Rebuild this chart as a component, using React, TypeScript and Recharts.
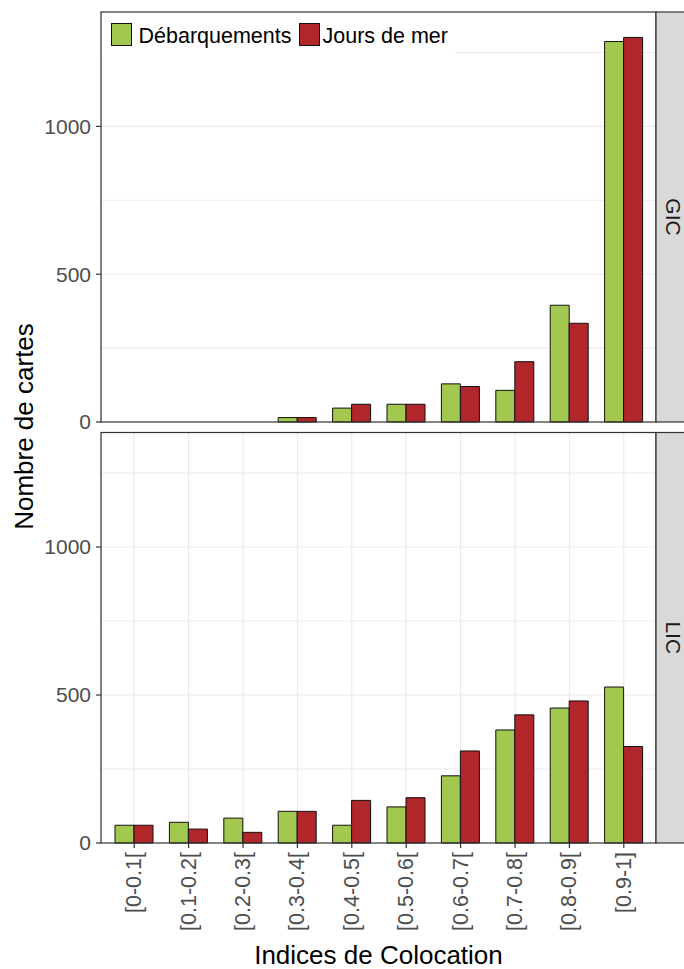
import { Bar, BarChart, CartesianGrid, XAxis, YAxis } from "recharts";

const categories = [
  "[0-0.1[",
  "[0.1-0.2[",
  "[0.2-0.3[",
  "[0.3-0.4[",
  "[0.4-0.5[",
  "[0.5-0.6[",
  "[0.6-0.7[",
  "[0.7-0.8[",
  "[0.8-0.9[",
  "[0.9-1]",
];

// facet GIC
const gicDebarquements = [0, 0, 0, 15, 47, 60, 129, 107, 395, 1287];
const gicJoursDeMer = [0, 0, 0, 15, 60, 60, 120, 204, 334, 1301];
// facet LIC
const licDebarquements = [60, 70, 84, 107, 60, 122, 227, 382, 456, 527];
const licJoursDeMer = [60, 47, 36, 107, 144, 153, 311, 433, 480, 326];

const yTicks = [0, 500, 1000];
const yGridValues = [250, 500, 750, 1000, 1250];
const yMax = 1387;

const series = [
  { key: "debarquements", name: "Débarquements", color: "#a2c84f" },
  { key: "jours", name: "Jours de mer", color: "#b0262a" },
];

const toRows = (deb: number[], jours: number[]) =>
  categories.map((cat, i) => ({ cat, debarquements: deb[i], jours: jours[i] }));

const gicRows = toRows(gicDebarquements, gicJoursDeMer);
const licRows = toRows(licDebarquements, licJoursDeMer);

const FONT = '"Liberation Sans", Arial, sans-serif';
const AXIS_GREY = "#4d4d4d";
const BORDER = "#333333";

const XTick = ({ x, y, payload }: any) => (
  <text
    x={x}
    y={y}
    transform={`rotate(-90 ${x} ${y})`}
    textAnchor="end"
    dominantBaseline="central"
    fill={AXIS_GREY}
    fontSize={21.5}
    fontFamily={FONT}
  >
    {payload.value}
  </text>
);

function Panel({
  rows,
  height,
  marginTop,
  marginBottom,
  withXAxis,
}: {
  rows: any[];
  height: number;
  marginTop: number;
  marginBottom: number;
  withXAxis: boolean;
}) {
  return (
    <BarChart
      width={684}
      height={height}
      data={rows}
      margin={{ top: marginTop, right: 28, bottom: marginBottom, left: 0 }}
      barSize={19}
      barGap={0}
    >
      <CartesianGrid stroke="#ebebeb" strokeWidth={1.1} horizontalValues={yGridValues} />
      <XAxis
        dataKey="cat"
        type="category"
        interval={0}
        padding={{ left: 6, right: 5 }}
        height={withXAxis ? 126 : 0}
        axisLine={false}
        tickLine={withXAxis ? { stroke: BORDER, strokeWidth: 1.2 } : false}
        tickSize={5}
        tickMargin={4}
        tick={withXAxis ? XTick : false}
      />
      <YAxis
        type="number"
        domain={[0, yMax]}
        ticks={yTicks}
        interval={0}
        width={101}
        axisLine={false}
        tickLine={{ stroke: BORDER, strokeWidth: 1.2 }}
        tickSize={5}
        tickMargin={5}
        tick={{ fill: AXIS_GREY, fontSize: 21, fontFamily: FONT }}
      />
      {series.map((s) => (
        <Bar
          key={s.key}
          dataKey={s.key}
          name={s.name}
          fill={s.color}
          stroke="#111111"
          strokeWidth={1}
          isAnimationActive={false}
        />
      ))}
    </BarChart>
  );
}

function Strip({ y, h, label }: { y: number; h: number; label: string }) {
  return (
    <g>
      <rect x={656} y={y} width={32} height={h} fill="#d9d9d9" stroke={BORDER} strokeWidth={1.2} />
      <text
        transform={`translate(673 ${y + h / 2}) rotate(90)`}
        textAnchor="middle"
        dominantBaseline="central"
        fill="#1a1a1a"
        fontSize={21}
      >
        {label}
      </text>
    </g>
  );
}

export default function App() {
  return (
    <div
      style={{
        position: "absolute",
        left: 0,
        top: 0,
        width: 684,
        height: 969,
        background: "#ffffff",
        fontFamily: FONT,
        overflow: "hidden",
      }}
    >
      <div style={{ position: "absolute", left: 0, top: 0 }}>
        <Panel rows={gicRows} height={434} marginTop={12} marginBottom={12} withXAxis={false} />
      </div>
      <div style={{ position: "absolute", left: 0, top: 420 }}>
        <Panel rows={licRows} height={549} marginTop={12.5} marginBottom={0} withXAxis={true} />
      </div>

      {/* legend inside the top panel */}
      <div
        style={{
          position: "absolute",
          left: 101,
          top: 12,
          width: 354,
          height: 43,
          background: "#ffffff",
        }}
      >
        {series.map((s, i) => {
          const keyLeft = i === 0 ? 9.5 : 198;
          const textLeft = i === 0 ? 37.5 : 221.5;
          return (
            <div key={s.key}>
              <div
                style={{
                  position: "absolute",
                  left: keyLeft,
                  top: 11,
                  width: 21,
                  height: 22.5,
                  boxSizing: "border-box",
                  border: "1px solid #111111",
                  background: s.color,
                }}
              />
              <div
                style={{
                  position: "absolute",
                  left: textLeft,
                  top: 12.8,
                  fontSize: 21.5,
                  lineHeight: "22px",
                  color: "#000000",
                  whiteSpace: "nowrap",
                }}
              >
                {s.name}
              </div>
            </div>
          );
        })}
      </div>

      <svg
        width={684}
        height={969}
        style={{ position: "absolute", left: 0, top: 0, pointerEvents: "none" }}
        fontFamily={FONT}
      >
        <rect x={101} y={12} width={555} height={410} fill="none" stroke={BORDER} strokeWidth={1.2} />
        <rect x={101} y={432.5} width={555} height={410.5} fill="none" stroke={BORDER} strokeWidth={1.2} />
        <Strip y={12} h={410} label="GIC" />
        <Strip y={432.5} h={410.5} label="LIC" />
        <text x={378.5} y={964} textAnchor="middle" fontSize={26} fill="#000000">
          Indices de Colocation
        </text>
        <text
          transform="translate(33 426.5) rotate(-90)"
          textAnchor="middle"
          fontSize={26}
          fill="#000000"
        >
          Nombre de cartes
        </text>
      </svg>
    </div>
  );
}
